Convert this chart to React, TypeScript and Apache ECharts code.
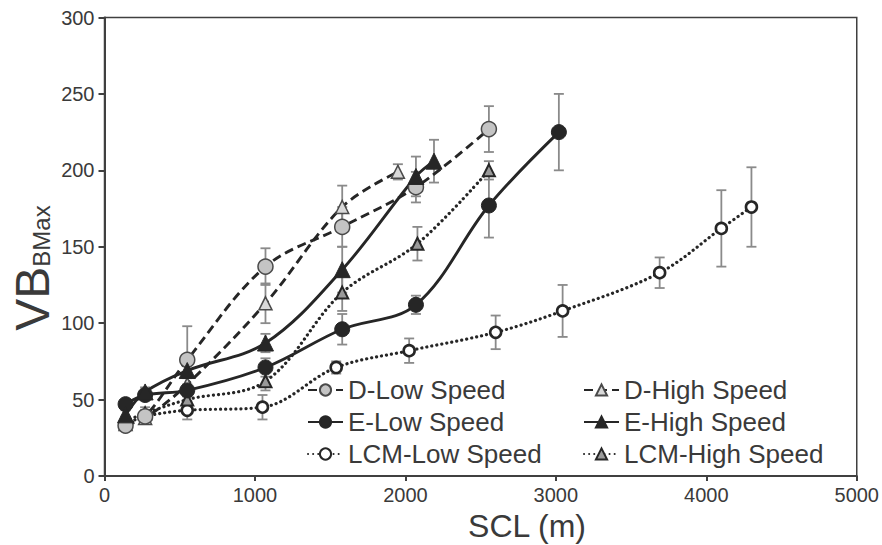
import React, { useEffect, useRef } from "react";
import * as echarts from "echarts";

const FONT = "'Liberation Sans', Arial, sans-serif";

const xTicks = { min: 0, max: 5000, interval: 1000 };
const yTicks = { min: 0, max: 300, interval: 50 };

const dLowX = [140, 270, 550, 1070, 1580, 2070, 2555];
const dLowY = [33, 39, 76, 137, 163, 189, 227];
const dLowErr = [3, 4, 22, 12, 13, 10, 15];

const dHighX = [140, 270, 550, 1070, 1580, 1950];
const dHighY = [34, 38, 60, 113, 176, 199];
const dHighErr = [3, 4, 6, 13, 14, 5];

const eLowX = [140, 270, 550, 1070, 1580, 2070, 2555, 3020];
const eLowY = [47, 53, 56, 71, 96, 112, 177, 225];
const eLowErr = [3, 3, 4, 6, 10, 6, 21, 25];

const eHighX = [140, 270, 550, 1070, 1580, 2070, 2190];
const eHighY = [40, 55, 69, 87, 135, 196, 206];
const eHighErr = [3, 3, 5, 6, 15, 13, 14];

const lcmLowX = [140, 270, 550, 1050, 1540, 2025, 2600, 3045, 3690, 4100, 4300];
const lcmLowY = [34, 39, 43, 45, 71, 82, 94, 108, 133, 162, 176];
const lcmLowErr = [3, 4, 6, 8, 4, 8, 11, 17, 10, 25, 26];

const lcmHighX = [140, 270, 550, 1070, 1580, 2080, 2555];
const lcmHighY = [36, 41, 50, 62, 120, 152, 200];
const lcmHighErr = [3, 4, 5, 6, 12, 11, 6];

const INK = "#262626";
const ERR = "#8a8a8a";
const TEXT = "#3a3a3a";

function pts(xs: number[], ys: number[]) {
  return xs.map((x, i) => [x, ys[i]]);
}
function errs(xs: number[], ys: number[], es: number[]) {
  return xs.map((x, i) => [x, ys[i] - es[i], ys[i] + es[i]]);
}

function errSeries(name: string, data: number[][]) {
  return {
    name,
    type: "custom",
    z: 1,
    silent: true,
    renderItem: (params: any, api: any) => {
      const x = api.value(0);
      const lo = api.coord([x, api.value(1)]);
      const hi = api.coord([x, api.value(2)]);
      const w = 5;
      const st = { stroke: ERR, lineWidth: 1.8 };
      return {
        type: "group",
        children: [
          { type: "line", shape: { x1: lo[0], y1: lo[1], x2: hi[0], y2: hi[1] }, style: st },
          { type: "line", shape: { x1: lo[0] - w, y1: lo[1], x2: lo[0] + w, y2: lo[1] }, style: st },
          { type: "line", shape: { x1: hi[0] - w, y1: hi[1], x2: hi[0] + w, y2: hi[1] }, style: st },
        ],
      };
    },
    data,
  };
}

function lineSeries(
  name: string,
  data: number[][],
  lineType: any,
  symbol: string,
  size: number,
  fill: string,
  border: string,
  bw: number,
  dotted = false
) {
  return {
    name,
    type: "line",
    z: 3,
    smooth: 0.35,
    data,
    symbol,
    symbolSize: size,
    showAllSymbol: true,
    lineStyle: { color: INK, width: dotted ? 3.2 : 2.9, type: lineType, cap: dotted ? "round" : "butt" },
    itemStyle: { color: fill, borderColor: border, borderWidth: bw },
  };
}

export default function App() {
  const ref = useRef<HTMLDivElement>(null);
  useEffect(() => {
    const chart = echarts.init(ref.current!, null, { renderer: "svg" });
    const legendText = { fontSize: 26, color: TEXT, fontFamily: FONT };
    const legendBase = {
      orient: "vertical",
      top: 377,
      padding: 0,
      itemGap: 6,
      itemWidth: 35,
      itemHeight: 14,
      selectedMode: false,
      textStyle: legendText,
    };
    chart.setOption({
      animation: false,
      backgroundColor: "#ffffff",
      grid: {
        left: 104.5,
        right: 25,
        top: 17.5,
        bottom: 69,
        show: true,
        borderColor: "#404040",
        borderWidth: 1.5,
      },
      xAxis: {
        type: "value",
        min: xTicks.min,
        max: xTicks.max,
        interval: xTicks.interval,
        axisLine: { show: true, onZero: false, lineStyle: { color: "#404040", width: 2 } },
        axisTick: { show: true, inside: false, length: 5, lineStyle: { color: "#404040", width: 2 } },
        splitLine: { show: false },
        axisLabel: {
          fontSize: 20,
          color: TEXT,
          fontFamily: FONT,
          margin: 9,
          formatter: (v: number) => String(v),
        },
      },
      yAxis: {
        type: "value",
        min: yTicks.min,
        max: yTicks.max,
        interval: yTicks.interval,
        axisLine: { show: true, onZero: false, lineStyle: { color: "#404040", width: 2 } },
        axisTick: { show: true, inside: false, length: 6, lineStyle: { color: "#404040", width: 2 } },
        splitLine: { show: false },
        axisLabel: { fontSize: 20, color: TEXT, fontFamily: FONT, margin: 10 },
      },
      legend: [
        { ...legendBase, data: ["D-Low Speed", "E-Low Speed", "LCM-Low Speed"], left: 307 },
        { ...legendBase, data: ["D-High Speed", "E-High Speed", "LCM-High Speed"], left: 583 },
      ],
      graphic: [
        {
          type: "text",
          x: 527,
          y: 526,
          style: {
            text: "SCL (m)",
            font: `32px ${FONT}`,
            fill: TEXT,
            align: "center",
            verticalAlign: "middle",
          },
        },
        {
          type: "text",
          x: 32,
          y: 268,
          rotation: Math.PI / 2,
          style: {
            text: "{a|VB}{b|BMax}",
            align: "center",
            verticalAlign: "middle",
            rich: {
              a: { fontSize: 48, fontFamily: FONT, fill: TEXT, color: TEXT },
              b: { fontSize: 24, fontFamily: FONT, fill: TEXT, color: TEXT, padding: [18, 0, 0, 0] },
            },
          },
        },
      ],
      series: [
        errSeries("D-Low err", errs(dLowX, dLowY, dLowErr)),
        errSeries("D-High err", errs(dHighX, dHighY, dHighErr)),
        errSeries("E-Low err", errs(eLowX, eLowY, eLowErr)),
        errSeries("E-High err", errs(eHighX, eHighY, eHighErr)),
        errSeries("LCM-Low err", errs(lcmLowX, lcmLowY, lcmLowErr)),
        errSeries("LCM-High err", errs(lcmHighX, lcmHighY, lcmHighErr)),
        lineSeries("LCM-Low Speed", pts(lcmLowX, lcmLowY), [0.1, 5], "circle", 11, "#ffffff", INK, 2.6, true),
        lineSeries("LCM-High Speed", pts(lcmHighX, lcmHighY), [0.1, 5], "triangle", 12, "#9a9a9a", INK, 2, true),
        lineSeries("D-High Speed", pts(dHighX, dHighY), [9, 5], "triangle", 13, "#d9d9d9", "#4a4a4a", 1.5),
        lineSeries("D-Low Speed", pts(dLowX, dLowY), [9, 5], "circle", 15, "#c4c4c4", "#4a4a4a", 1.5),
        lineSeries("E-Low Speed", pts(eLowX, eLowY), "solid", "circle", 15, INK, INK, 1),
        lineSeries("E-High Speed", pts(eHighX, eHighY), "solid", "triangle", 16, INK, INK, 1),
      ],
    });
    return () => chart.dispose();
  }, []);
  return (
    <div
      ref={ref}
      style={{ position: "fixed", left: 0, top: 0, width: 882, height: 545, background: "#fff" }}
    />
  );
}
